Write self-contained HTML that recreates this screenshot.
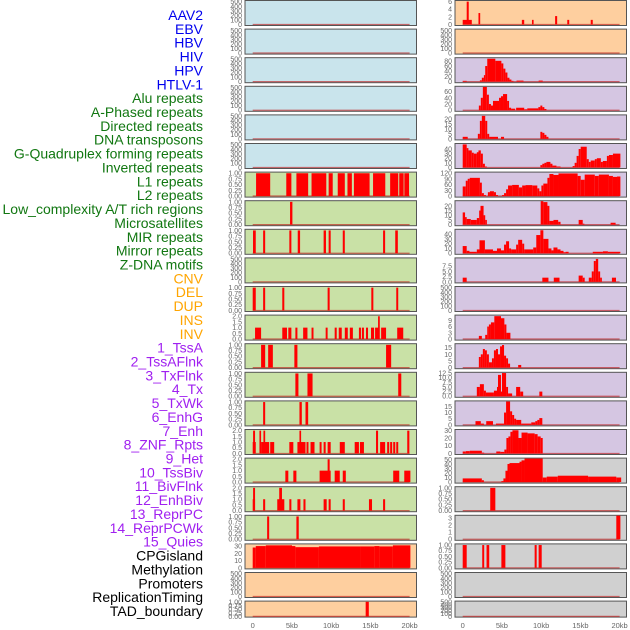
<!DOCTYPE html>
<html><head><meta charset="utf-8"><style>
html,body{margin:0;padding:0;background:#fff;width:630px;height:630px;overflow:hidden}
svg{display:block;font-family:"Liberation Sans",sans-serif}
</style></head><body>
<svg id="chart" width="630" height="630" viewBox="0 0 630 630"></svg>
<script>
// ---- data ----
const trackLabels = ["AAV2","EBV","HBV","HIV","HPV","HTLV-1","Alu repeats","A-Phased repeats","Directed repeats","DNA transposons","G-Quadruplex forming repeats","Inverted repeats","L1 repeats","L2 repeats","Low_complexity A/T rich regions","Microsatellites","MIR repeats","Mirror repeats","Z-DNA motifs","CNV","DEL","DUP","INS","INV","1_TssA","2_TssAFlnk","3_TxFlnk","4_Tx","5_TxWk","6_EnhG","7_Enh","8_ZNF_Rpts","9_Het","10_TssBiv","11_BivFlnk","12_EnhBiv","13_ReprPC","14_ReprPCWk","15_Quies","CPGisland","Methylation","Promoters","ReplicationTiming","TAD_boundary"];
const labelGroups = ["v","v","v","v","v","v","r","r","r","r","r","r","r","r","r","r","r","r","r","s","s","s","s","s","c","c","c","c","c","c","c","c","c","c","c","c","c","c","c","k","k","k","k","k"];
const xTickValues = [0,5,10,15,20];
const xTickLabels = ["0","5kb","10kb","15kb","20kb"];
const tickSets = {
  e:[0,100,200,300,400,500], b:[0,0.25,0.5,0.75,1], t:[0,0.5,1,1.5,2]
};
// left column: [bg, tickset/ticks, ymax, bars [x0kb,x1kb,height]]
const leftTicks = ["e","e","e","e","e","e","b","b","b","e","b","t","b","b","b","t","t","t","b",[0,10,20,30],"e","b"];
const leftBg = ["blue","blue","blue","blue","blue","blue","green","green","green","green","green","green","green","green","green","green","green","green","green","orange","orange","orange"];
const leftBars = [
 [],[],[],[],[],[],
 [[0.43,2.23,1],[4.28,4.93,1],[5.57,7.07,1],[7.5,9.38,1],[9.68,10.2,1],[10.84,11.74,1],[12.08,12.64,1],[12.9,14.9,1],[15.34,16.9,1],[17.52,18.55,1],[18.68,19.24,1],[19.33,19.93,1]],
 [[4.76,5.06,1]],
 [[0.04,0.39,1],[1.33,1.59,1],[4.67,4.93,1],[5.74,6.04,1],[9.04,9.34,1],[9.68,9.94,1],[11.48,11.74,1],[16.62,16.88,1],[18.17,18.5,1]],
 [],
 [[0,0.39,1],[1.33,1.59,1],[3.77,4.03,1],[9.55,9.81,1],[15.12,15.38,1],[18.3,18.55,1]],
 [[0.3,1.07,1],[3.77,4.37,1],[4.54,4.93,1],[5.44,5.7,1],[6.43,6.98,1],[7.5,7.75,1],[9.3,9.55,1],[10.45,10.71,1],[10.97,11.35,1],[11.74,12.12,1],[12.38,12.77,1],[13.54,13.8,1],[13.92,14.18,1],[14.44,14.7,1],[15.08,15.47,1],[15.6,16.11,1],[15.98,16.2,2],[16.37,17.0,1],[18.42,19.19,1]],
 [[1.07,1.59,1],[1.97,2.57,1],[5.31,5.7,1],[17.0,17.65,1]],
 [[5.44,5.83,1],[6.98,7.63,1],[18.55,18.94,1]],
 [[1.33,1.59,1],[5.96,6.26,1],[6.73,7.07,1]],
 [[0,0.39,1],[0.05,0.3,2],[0.86,1.07,2],[1.37,1.59,2],[1.07,2.1,1],[2.23,2.74,1],[4.67,5.18,1],[5.7,6.73,1],[5.96,6.17,2],[6.86,7.11,1],[7.37,7.88,1],[8.53,8.78,1],[9.04,9.3,1],[9.55,9.94,1],[11.1,11.74,1],[13.0,13.54,1],[13.67,14.18,1],[15.72,15.98,2],[16.24,16.88,1],[17.14,17.4,1],[17.52,17.78,1],[17.91,18.17,1],[18.3,18.55,1],[19.7,19.97,2]],
 [[4.16,4.54,1],[5.18,5.57,1],[8.53,9.94,1],[9.55,9.81,2],[10.45,11.1,1],[11.48,11.87,1],[17.91,18.68,1],[19.32,20.1,1]],
 [[0,0.3,1],[0.05,0.3,2],[1.33,1.59,1],[3.13,4.03,1],[3.38,3.73,2],[4.67,4.93,1],[5.7,6.08,1],[6.47,6.73,1],[9.04,9.43,1],[9.68,9.94,1],[11.48,11.74,1],[14.82,15.21,1],[16.62,16.88,1]],
 [[1.84,2.1,1],[5.57,5.87,1]],
 [[0,0.39,28],[0.39,1.67,30],[1.67,5.01,31],[5.01,5.44,30],[5.44,8.44,28.5],[8.44,13.8,29.5],[13.8,15.51,29.5],[15.51,16.15,30],[16.15,17.87,29.5],[17.87,20.1,31]],
 [],
 [[14.4,14.8,1]]
];
const leftYmax = [527,527,527,527,527,527,1.05,1.05,1.05,527,1.05,2.1,1.05,1.05,1.05,2.1,2.1,2.1,1.05,33,527,1.05];
const rightTicks = [[0,2,4,6],"e",[0,20,40,60,80],[0,20,40,60],[0,5,10,15,20],[0,10,20,30,40],[0,30,60,90,120],[0,5,10,15,20],[0,10,20,30,40],[0,2.5,5,7.5],"e",[0,3,6,9],[0,5,10,15],[0,2.5,5,7.5,10,12.5],[0,5,10,15],[0,10,20,30],[0,10,20,30,40,50],"b",[0,1,2,3],"b","e","e"];
const rightBg = ["orange","orange","purple","purple","purple","purple","purple","purple","purple","purple","purple","purple","purple","purple","purple","purple","grey","grey","grey","grey","grey","grey"];
const rightYmax = [6.3,527,92,77,24,52,125,25.5,50,11.5,527,11.5,18,12.9,19.5,31,53,1.05,3.35,1.05,527,527];
const rightBars = [
 [[0,1.16,1.2],[0.51,0.77,6],[2.01,2.23,3],[7.54,7.84,1.2],[8.83,9.04,1.2],[11.78,12.04,2.2],[13.33,13.58,1.2],[16.32,16.58,1.2]],
 [],
 [[0,0.51,3],[2.19,2.44,5],[2.44,2.7,15],[2.7,2.87,25],[2.87,3.13,60],[3.13,4.16,88],[4.16,4.93,80],[4.93,5.18,70],[5.18,5.44,50],[5.44,5.7,35],[5.7,5.96,15],[5.96,6.21,8],[6.21,6.47,3],[6.86,7.75,4],[9.68,10.2,4]],
 [[2.06,2.31,15],[2.31,2.57,40],[2.57,3.08,75],[3.08,3.34,50],[3.34,3.6,20],[3.6,3.86,15],[3.86,4.63,30],[4.63,4.88,40],[4.88,5.14,45],[5.14,5.66,52],[5.66,5.91,30],[5.91,6.17,8],[6.17,6.68,5],[6.81,7.84,8],[7.84,8.23,3],[8.23,9.64,6],[9.64,9.9,10],[9.9,10.15,15],[10.15,10.41,10],[10.41,10.67,4]],
 [[0,0.64,2],[1.93,2.19,5],[2.19,2.44,18],[2.44,2.87,23],[2.87,3.13,18],[3.13,3.38,5],[3.38,4.5,2],[4.88,5.27,2],[9.9,10.15,7],[10.15,10.41,6],[10.41,10.67,4],[10.67,10.93,2]],
 [[0,0.51,50],[0.51,0.73,42],[0.73,1.16,37],[1.16,1.41,32],[1.41,1.8,30],[1.8,2.01,33],[2.01,2.31,37],[2.31,2.57,30],[2.57,2.83,8],[2.83,3.08,2],[9.9,10.15,5],[10.15,10.41,8],[10.41,10.67,10],[10.67,11.18,12],[11.18,11.44,8],[11.44,11.95,4],[11.95,12.47,2],[14.01,14.27,3],[14.27,14.52,10],[14.52,14.78,25],[14.78,15.04,40],[15.04,15.81,45],[15.81,16.07,18],[16.07,16.32,12],[16.32,16.84,15],[16.84,17.1,18],[17.1,17.61,20],[17.61,17.87,12],[17.87,18.38,14],[18.38,18.64,25],[18.64,19.15,27],[19.15,20.1,30]],
 [[0,0.39,50],[0.39,0.64,80],[0.64,0.9,90],[0.9,2.19,95],[2.19,2.44,70],[2.44,2.7,15],[2.7,2.96,5],[3.21,3.47,20],[3.47,3.98,25],[3.98,4.24,20],[4.24,4.5,5],[5.01,5.27,5],[5.27,5.53,15],[5.53,5.78,35],[5.78,6.3,55],[6.3,7.16,58],[7.16,7.58,45],[7.58,8.01,55],[8.01,8.87,57],[8.87,9.51,55],[9.51,9.77,40],[9.77,10.03,25],[10.03,10.28,55],[10.28,10.8,65],[10.8,11.05,95],[11.05,11.57,115],[11.57,12.21,110],[12.21,14.65,118],[14.65,15.04,105],[15.04,15.55,85],[15.55,16.84,112],[16.84,17.35,105],[17.35,18.64,112],[18.64,19.15,105],[19.15,19.67,100],[19.67,20.1,102]],
 [[0,0.3,13],[0.3,0.51,8],[0.51,1.03,6],[1.03,1.8,5],[1.8,2.1,7],[2.1,2.27,15],[2.27,2.66,20],[2.66,2.87,10],[2.87,3.08,5],[9.94,10.28,25],[10.28,10.8,24],[10.8,11.05,20],[11.05,11.57,4],[11.57,12.17,5],[12.17,12.47,3],[14.78,15.3,5],[15.3,15.51,1],[18.85,19.49,2]],
 [[0,0.51,15],[0.51,0.86,5],[0.86,1.8,3],[1.8,2.14,8],[2.14,2.83,27],[2.83,3.86,8],[3.86,4.37,5],[4.37,4.88,10],[4.88,5.27,6],[5.27,5.53,18],[5.53,5.91,25],[5.91,6.17,10],[6.17,6.81,8],[6.81,7.07,18],[7.07,7.58,28],[7.58,7.84,20],[7.84,8.99,8],[8.99,9.38,12],[9.38,9.9,38],[9.9,10.28,48],[10.28,10.93,30],[10.93,11.31,10],[11.31,11.57,6],[11.57,12.08,12],[12.08,12.47,8],[12.47,12.85,5],[12.85,13.11,2],[13.11,13.5,3],[16.58,17.87,3],[17.87,18.51,4],[18.51,20.1,3]],
 [[0,0.51,2],[10.15,10.93,2],[11.61,12.34,2],[14.78,15.3,3],[15.3,15.55,2],[16.07,16.45,2],[16.45,16.71,5],[16.71,16.97,10],[16.97,17.27,11],[17.27,17.52,5],[17.52,17.74,2],[19.02,19.54,2]],
 [],
 [[2.06,2.44,1.5],[2.87,3.13,2],[3.13,3.34,6],[3.34,3.6,7],[3.6,4.03,8],[4.03,4.88,11],[4.88,5.31,10],[5.31,5.57,7],[5.57,6.08,3]],
 [[2.06,2.31,8],[2.31,2.57,10],[2.57,2.83,14],[2.83,3.08,13],[3.08,3.34,10],[3.34,3.73,4],[3.73,3.98,7],[3.98,4.24,13],[4.24,4.5,14],[4.5,4.76,10],[4.76,5.01,16],[5.01,5.27,17],[5.27,5.53,9],[5.53,5.78,7],[5.78,6.04,3],[7.07,7.46,2]],
 [[1.8,2.19,5],[2.19,2.7,6.5],[2.7,2.96,3],[2.96,3.98,2],[3.98,4.37,3],[4.37,4.5,5],[4.5,4.88,11.5],[4.88,5.01,2.5],[5.01,5.53,12.5],[5.53,5.78,5],[5.78,6.3,1.5],[6.81,7.33,5],[7.33,7.71,2.5],[9.77,10.15,2.5]],
 [[1.63,2.31,3],[2.31,2.7,1],[3.0,3.86,3],[4.24,5.27,1],[5.27,5.53,10],[5.53,6.04,19],[6.04,6.3,11],[6.3,6.56,8],[6.56,6.81,5],[6.81,7.46,4],[7.46,8.74,1],[8.74,9.25,2],[9.25,9.51,3],[9.51,9.77,4],[9.77,10.15,5.5]],
 [[0,0.39,2.5],[0.39,0.9,3],[0.9,2.44,3.5],[2.44,2.74,1],[4.28,4.8,2.5],[4.8,5.31,2],[5.31,5.57,5],[5.57,5.83,20],[5.83,6.08,22],[6.08,6.34,28],[6.34,7.11,30],[7.11,7.5,20],[7.5,8.27,27],[8.27,9.17,26],[9.17,9.55,25],[9.55,9.94,22],[9.94,10.2,20]],
 [[0,2.44,8],[2.44,2.7,4],[4.93,5.19,2],[5.19,5.45,8],[5.45,5.71,25],[5.71,5.97,40],[5.97,7.24,42],[7.24,7.5,45],[7.5,7.88,48],[7.88,10.2,52],[10.2,10.71,10],[10.71,12.12,12],[12.12,15.98,14],[15.98,19.58,12],[19.58,20.2,10]],
 [[3.51,4.16,1]],
 [[19.58,20.1,3.3]],
 [[0,0.51,1],[2.49,2.74,1],[3.04,3.38,1],[4.93,5.44,1],[9.17,9.43,1],[9.68,10.07,1]],
 [],[]
];
// ---- rendering ----
const NS="http://www.w3.org/2000/svg";
const svg=document.getElementById('chart');
const bgColors={blue:"#c9e4ec",green:"#c9e1a6",orange:"#fecf9f",purple:"#d5c6e2",grey:"#d0d0d0"};
const labelColors={v:"#0000ee",r:"#117711",s:"#ffa500",c:"#a020f0",k:"#000000"};
function el(tag,attrs,parent){const e=document.createElementNS(NS,tag);for(const k in attrs)e.setAttribute(k,attrs[k]);(parent||svg).appendChild(e);return e;}
function fmt(v,ticks){
  if(ticks===tickSets.b) return v.toFixed(2);
  if(ticks===tickSets.t) return v.toFixed(1);
  if(ticks.some(t=>t%1!==0)) return v.toFixed(1);
  return String(v);
}
// labels
trackLabels.forEach((lab,i)=>{
  const t=el('text',{x:203,y:15+i*13.86+5,'text-anchor':'end','font-size':'14px',fill:labelColors[labelGroups[i]]});
  
  
  t.textContent=lab;
});
function drawColumn(colName,x0,x1,zeroX,bgs,ticksArr,ymaxArr,barsArr){
  const pxPerKb=(x1-x0-14.6)/20; // 0..20kb
  const xs=kb=>zeroX+kb*pxPerKb;
  bgs.forEach((bg,i)=>{
    const top=0.5+28.6*i, h=(i===21)?16:25;
    const g=el('g',{});
    
    
    el('rect',{x:x0,y:top,width:x1-x0,height:h,fill:bgColors[bg],stroke:'#555',"stroke-width":1},g);
    const ymax=ymaxArr[i], ymin=-0.045*ymax;
    const ys=v=>top+h-(v-ymin)/(ymax-ymin)*h;
    let ticks=ticksArr[i]; if(typeof ticks==='string') ticks=tickSets[ticks];
    ticks.forEach(tv=>{
      const t=el('text',{x:x0-3,y:ys(tv)+2.5,'text-anchor':'end','font-size':'7px',fill:'#666'},g);
      
      
      t.textContent=fmt(tv,ticks);
    });
    el('line',{x1:xs(0),x2:xs(20),y1:ys(0),y2:ys(0),stroke:'rgba(190,20,20,0.6)','stroke-width':1.2},g);
    barsArr[i].forEach(b=>{
      const r=el('rect',{x:xs(b[0]),width:Math.max(0.8,xs(b[1])-xs(b[0])),y:ys(b[2]),height:ys(0)-ys(b[2]),fill:'#ff0000'},g);
      
      
    });
  });
  xTickValues.forEach((v,j)=>{
    const t=el('text',{x:xs(v),y:628,'text-anchor':'middle','font-size':'7.5px',fill:'#666'});
    
    
    t.textContent=xTickLabels[j];
  });
}
drawColumn('left',245,416.5,252.7,leftBg,leftTicks,leftYmax,leftBars);
drawColumn('right',455,626.5,462.7,rightBg,rightTicks,rightYmax,rightBars);
</script>
</body></html>
